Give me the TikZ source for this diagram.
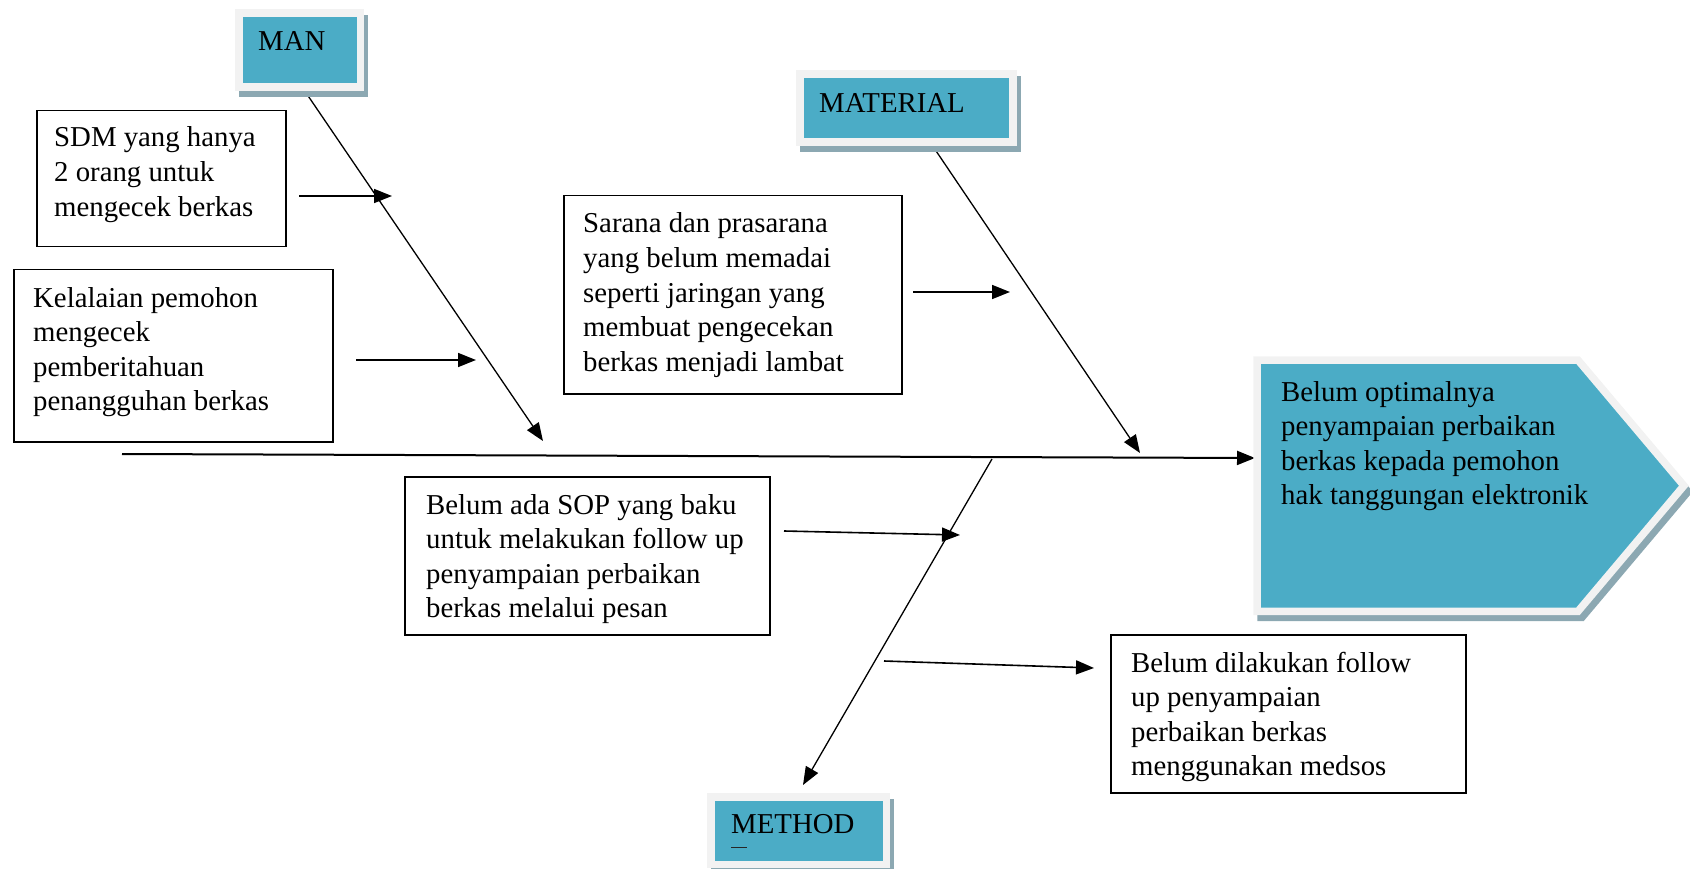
\documentclass[tikz,border=0pt]{standalone}
\usepackage{fontspec}
\setmainfont{Liberation Serif}
\usetikzlibrary{arrows.meta,calc}
\definecolor{tealfill}{HTML}{4BACC6}
\definecolor{frameg}{HTML}{F2F2F2}
\definecolor{shadowc}{HTML}{8CA8B2}
\newcommand\dfont{\fontsize{28.8}{34.6}\selectfont}
\newcommand\txtlines[1]{\parbox[t]{420pt}{\dfont\raggedright #1}}
\begin{document}
\begin{tikzpicture}[x=1pt,y=-1pt,
  cbox/.style={draw=black, line width=1.5pt, inner sep=0pt, anchor=north west},
  lblbox/.style={fill=tealfill, draw=frameg, line width=7.5pt, inner sep=0pt, anchor=north west,
     preaction={draw=shadowc, fill=shadowc, line width=7.5pt, transform canvas={shift={(4,6)}}}},
  txt/.style={anchor=base west, inner sep=0pt},
  arr/.style={line width=1.6pt, -{Triangle[length=18pt,width=14pt]}},
  bone/.style={line width=1.3pt, -{Triangle[length=18pt,width=14pt]}},
  spine/.style={line width=2pt, -{Triangle[length=18pt,width=14pt]}}
]
\useasboundingbox (0,0) rectangle (1690,869);

% endpoints
\coordinate (manS) at (300,84);
\coordinate (manE) at (543,441);
\coordinate (matS) at (930,142);
\coordinate (matE) at (1140,453);
\coordinate (methS) at (992,459);
\coordinate (methE) at (803,785);
\coordinate (spineS) at (122,454);
\coordinate (spineE) at (1255,458);
\coordinate (a1S) at (299,196);
\coordinate (a1E) at (392,196);
\coordinate (a2S) at (356,360);
\coordinate (a2E) at (476,360);
\coordinate (a3S) at (913,292);
\coordinate (a3E) at (1010,292);
\coordinate (a4S) at (784,531);
\coordinate (a4E) at (960,535);
\coordinate (a5S) at (884,661);
\coordinate (a5E) at (1094,668);

% bones and spine
\draw[bone] (manS) -- (manE);
\draw[bone] (matS) -- (matE);
\draw[bone] (methS) -- (methE);
\draw[spine] (spineS) -- (spineE);

% small arrows
\draw[arr] (a1S) -- (a1E);
\draw[arr] (a2S) -- (a2E);
\draw[arr] (a3S) -- (a3E);
\draw[arr] (a4S) -- (a4E);
\draw[arr] (a5S) -- (a5E);

% category labels
\node[lblbox, minimum width=121.5pt, minimum height=74pt] (man) at (235,9.5) {};
\node[txt] (mant) at (258,51) {\dfont MAN};
\node[lblbox, minimum width=213pt, minimum height=68pt] (mat) at (796,70.5) {};
\node[txt] (matt) at (819,113) {\dfont MATERIAL};
\node[lblbox, minimum width=175.5pt, minimum height=67.5pt] (meth) at (707,793) {};
\node[txt] (metht) at (731,833) {\dfont METHOD};
\draw[line width=0.8pt, black!85] (731,847) -- (747,847);

% head
\node[anchor=north west, inner sep=0pt, minimum width=320.5pt, minimum height=251pt] (head) at (1257,360) {};
\path[fill=tealfill, draw=frameg, line width=7.5pt, line join=miter,
   preaction={draw=shadowc, fill=shadowc, line width=7.5pt, transform canvas={shift={(4,6)}}}]
   (head.north west) -- (head.north east) -- ($(head.east)+(106,0)$) -- (head.south east) -- (head.south west) -- cycle;
\node[txt] (headt) at (1281,401) {\txtlines{Belum optimalnya\\penyampaian perbaikan\\berkas kepada pemohon\\hak tanggungan elektronik}};

% cause boxes
\node[cbox, minimum width=249pt, minimum height=136pt] (sdm) at (36,110) {};
\node[txt] (sdmt) at (54,147) {\txtlines{SDM yang hanya\\2 orang untuk\\mengecek berkas}};
\node[cbox, minimum width=319pt, minimum height=172pt] (kel) at (13,269) {};
\node[txt] (kelt) at (33,307) {\txtlines{Kelalaian pemohon\\mengecek\\pemberitahuan\\penangguhan berkas}};
\node[cbox, minimum width=338pt, minimum height=198pt] (sar) at (563,195) {};
\node[txt] (sart) at (583,233) {\txtlines{Sarana dan prasarana\\yang belum memadai\\seperti jaringan yang\\membuat pengecekan\\berkas menjadi lambat}};
\node[cbox, minimum width=365pt, minimum height=158pt] (sop) at (404,476) {};
\node[txt] (sopt) at (426,514) {\txtlines{Belum ada SOP yang baku\\untuk melakukan follow up\\penyampaian perbaikan\\berkas melalui pesan}};
\node[cbox, minimum width=355pt, minimum height=158pt] (bel) at (1110,634) {};
\node[txt] (belt) at (1131,672) {\txtlines{Belum dilakukan follow\\up penyampaian\\perbaikan berkas\\menggunakan medsos}};
\end{tikzpicture}
\end{document}
